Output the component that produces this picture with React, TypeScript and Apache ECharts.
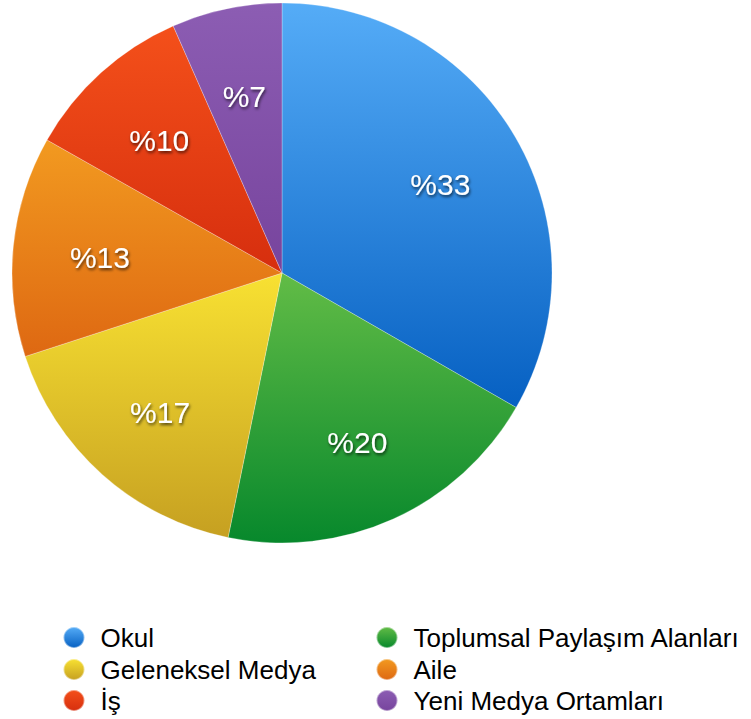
import React, { useEffect, useRef } from "react";
import * as echarts from "echarts";

const categories = ["Okul", "Toplumsal Paylaşım Alanları", "Geleneksel Medya", "Aile", "İş", "Yeni Medya Ortamları"];
const values = [33.3, 19.9, 16.8, 13.2, 10.2, 6.6];
const topColors = ["#55acf7", "#62bc46", "#f8e132", "#f29a20", "#f4501a", "#8c5db3"];
const bottomColors = ["#0660c2", "#07882c", "#c6a021", "#de6812", "#d62e0e", "#77449d"];
const legendLeftCol = ["Okul", "Geleneksel Medya", "İş"];
const legendRightCol = ["Toplumsal Paylaşım Alanları", "Aile", "Yeni Medya Ortamları"];

const grad = (i: number) =>
  new echarts.graphic.LinearGradient(0, 0, 0, 1, [
    { offset: 0, color: topColors[i] },
    { offset: 1, color: bottomColors[i] },
  ]);

export default function App() {
  const ref = useRef<HTMLDivElement>(null);
  useEffect(() => {
    if (!ref.current) return;
    const chart = echarts.init(ref.current, null, { renderer: "svg" });
    const rowCenters = [635, 667, 698];
    const makeLegend = (name: string, row: number, left: number) => {
      const i = categories.indexOf(name);
      return {
        orient: "horizontal" as const,
        left,
        top: rowCenters[row] - 10.5,
        padding: 0,
        itemWidth: 21,
        itemHeight: 21,
        selectedMode: false,
        textStyle: {
          fontSize: 26,
          color: "#000",
          fontFamily: "Liberation Sans, Arial, Helvetica, sans-serif",
          lineHeight: 21,
          padding: [0, 0, 0, 11],
        },
        data: [{ name, icon: "circle", itemStyle: { color: grad(i) } }],
      };
    };
    const legends = [
      ...legendLeftCol.map((n, r) => makeLegend(n, r, 62.5)),
      ...legendRightCol.map((n, r) => makeLegend(n, r, 375.5)),
    ];
    chart.setOption({
      animation: false,
      backgroundColor: "#fff",
      legend: legends,
      series: [
        {
          type: "pie",
          center: [282, 273],
          radius: [0, 270],
          startAngle: 90,
          clockwise: true,
          silent: true,
          label: { show: false },
          labelLine: { show: false },
          itemStyle: { borderColor: "rgba(255,255,255,0.45)", borderWidth: 0.6 },
          data: categories.map((name, i) => ({
            name,
            value: values[i],
            itemStyle: { color: grad(i) },
          })),
        },
        {
          type: "pie",
          center: [282, 276],
          radius: [90, 270],
          startAngle: 90,
          clockwise: true,
          silent: true,
          legendHoverLink: false,
          itemStyle: { color: "rgba(0,0,0,0)", borderWidth: 0 },
          labelLine: { show: false },
          label: {
            show: true,
            position: "inside",
            formatter: (p: any) => "%" + Math.round(p.value),
            color: "#fff",
            fontSize: 30,
            fontFamily: "Liberation Sans, Arial, Helvetica, sans-serif",
            textShadowColor: "rgba(0,0,0,0.65)",
            textShadowBlur: 3,
            textShadowOffsetX: 1,
            textShadowOffsetY: 2,
          },
          data: categories.map((name, i) => ({ name, value: values[i] })),
        },
      ],
    });
    return () => chart.dispose();
  }, []);
  return (
    <div
      ref={ref}
      style={{ position: "fixed", left: 0, top: 0, width: 751, height: 719 }}
    />
  );
}
